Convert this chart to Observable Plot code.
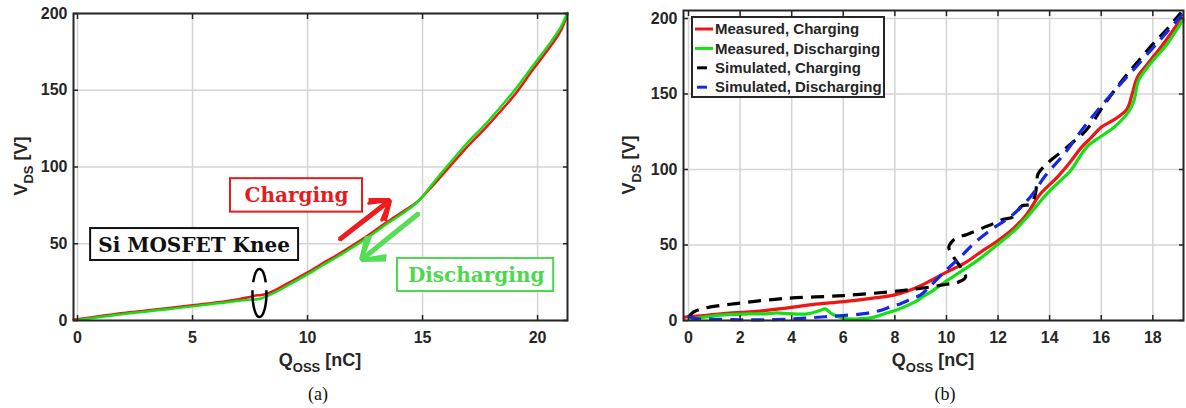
<!DOCTYPE html>
<html><head><meta charset="utf-8">
<script src="https://cdn.jsdelivr.net/npm/d3@7"></script>
<script src="https://cdn.jsdelivr.net/npm/@observablehq/plot@0.6"></script>
<style>
body{margin:0;background:#fff;}
#wrap{position:relative;width:1186px;height:408px;overflow:hidden;background:#fff;}
#wrap svg{position:absolute;top:0;}
</style></head><body><div id="wrap"></div>
<script>
// ---------- Panel (a) data ----------
const aTicksX = [0, 5, 10, 15, 20];
const aTicksY = [0, 50, 100, 150, 200];
const aQ_charge = [-0.17, 0, 1, 2, 3, 4, 5, 6, 7, 7.5, 7.8, 8.0, 8.3, 8.8, 9.4, 10, 10.6, 11.3, 12, 12.7, 13.5, 14.3, 14.8, 15.3, 15.9, 16.9, 17.8, 19, 19.8, 20.6, 21.0, 21.3];
const aV_charge = [0.5, 0.9, 2.9, 4.9, 6.5, 8.2, 9.9, 11.7, 13.9, 15.4, 16.4, 16.6, 17.8, 21.4, 26.4, 31.3, 36.8, 42.8, 49.3, 56.2, 64.6, 72.4, 77.8, 85.5, 95.5, 112.5, 126.5, 147, 163.5, 179.5, 188.5, 199.8];
const aQ_discharge = [0, 1, 2, 3, 4, 5, 6, 7, 7.5, 7.9, 8.3, 8.8, 9.4, 10, 10.6, 11.3, 12, 12.7, 13.5, 14.3, 14.8, 15.3, 15.9, 16.9, 17.8, 19, 19.8, 20.6, 21.0, 21.3];
const aV_discharge = [0.3, 2.3, 4.2, 5.8, 7.5, 9.2, 11.0, 12.8, 13.6, 14.0, 16.2, 20.0, 25.0, 30.0, 35.5, 41.5, 48.0, 55.0, 63.5, 71.5, 77.5, 86.5, 97.5, 115, 129, 150, 166, 182, 191, 200.5];

// annotations of panel (a), in data units
const annText = ["Charging", "Si MOSFET Knee", "Discharging"];
const annQ = [9.52, 5.07, 17.33];
const annV = [81.4, 48.8, 29.3];
const annBoxQ1 = [6.65, 0.57, 13.91];
const annBoxQ2 = [12.39, 9.61, 20.7];
const annBoxV1 = [70.6, 39.1, 18.9];
const annBoxV2 = [92.4, 59.9, 40.4];
const arrowQ1 = [11.39, 14.83];
const arrowV1 = [52.8, 69.7];
const arrowQ2 = [13.57, 12.35];
const arrowV2 = [78.2, 39.7];
const kneeQ = [7.91];
const kneeV = [17.9];

// ---------- Panel (b) data ----------
const bTicksX = [0, 2, 4, 6, 8, 10, 12, 14, 16, 18];
const bTicksY = [0, 50, 100, 150, 200];
const bQ_measCh = [-0.19, 0, 0.6, 1.7, 2.6, 3.7, 4.8, 6.0, 7.0, 8.0, 8.5, 9.0, 9.4, 10.0, 10.7, 11.3, 12.0, 12.6, 13.1, 13.6, 14.3, 14.8, 15.2, 15.6, 16.0, 16.5, 17.0, 17.2, 17.4, 17.8, 18.4, 19.15];
const bV_measCh = [2, 2.5, 3.3, 5, 6, 8, 10.5, 12.5, 14.5, 17, 19.5, 23, 26.5, 32, 38, 45, 53, 61, 70, 83, 95, 105, 114, 121, 128, 133, 140, 150, 161, 170, 183, 201];
const bQ_measDis = [0.06, 0.6, 1.36, 2.4, 3.0, 3.42, 3.9, 4.6, 5.1, 5.3, 5.56, 6.0, 6.5, 7.2, 7.6, 8.07, 8.5, 8.85, 9.1, 9.4, 9.9, 10.7, 11.3, 12.0, 12.6, 13.1, 13.9, 14.5, 14.8, 15.45, 16.0, 16.5, 17.05, 17.26, 17.45, 17.9, 18.55, 19.2];
const bV_measDis = [1, 2.2, 3.7, 4.4, 4.4, 5, 4.5, 4.4, 6.6, 7.7, 4.4, 1.5, 1, 2.2, 4.5, 7, 10, 13, 16, 19, 25, 34, 41, 50.5, 59, 68, 84, 94, 99, 115, 122, 128, 138, 145, 159, 170, 183, 200];
const bQ_simCh = [0, 0.19, 0.58, 1.74, 3.68, 6.0, 8.06, 8.84, 9.5, 10.0, 10.4, 10.74, 10.6, 10.28, 10.09, 10.2, 10.41, 10.8, 11.5, 11.8, 12.2, 12.56, 12.93, 13.26, 13.45, 13.5, 13.55, 13.84, 14.4, 14.9, 15.3, 15.7, 16.0, 16.5, 17.0, 17.5, 18.0, 18.5, 19.1];
const bV_simCh = [2.2, 5.5, 8, 11, 14.5, 16.5, 19.4, 21, 22.5, 24, 25, 28.6, 34, 42, 48.5, 52, 55, 57, 62, 64, 67, 68.5, 76, 77, 84, 92, 97, 103, 111, 118, 124, 132, 140, 152, 163, 173, 183, 192, 204];
const bQ_simDis = [0, 0.3, 1, 2, 3, 4, 4.7, 5.3, 6.0, 6.8, 7.4, 7.9, 8.2, 8.6, 9.0, 9.38, 10.03, 10.6, 11.06, 11.8, 12.5, 13.26, 13.84, 14.55, 15.33, 16.3, 17.56, 18.34, 19.15];
const bV_simDis = [2.5, 1.2, 0.8, 0.5, 0.5, 1, 1.8, 2.5, 3.3, 4.5, 6.5, 9.5, 11, 14, 17, 23, 34, 43, 51, 61, 69, 82, 96, 110, 128, 148, 172, 187, 203];
const legendLabels = ["Measured, Charging", "Measured, Discharging", "Simulated, Charging", "Simulated, Discharging"];

// ---------- helpers ----------
const INK = "#262626";
const RED = "#f01414", GREEN = "#14e014", BLACK = "#000000", BLUE = "#1428e6";
const rows = (Q, V) => Q.map((q, i) => ({q, v: V[i]}));
function axesMarks(xt, yt) {
  return [
    Plot.frame({stroke: INK, strokeWidth: 2}),
    Plot.axisX(xt, {anchor: "bottom", tickSize: -5, tickPadding: 16, label: null, stroke: INK, strokeWidth: 1.5, fill: INK}),
    Plot.axisX(xt, {anchor: "top", tickSize: -5, tickFormat: () => "", label: null, stroke: INK, strokeWidth: 1.5}),
    Plot.axisY(yt, {anchor: "left", tickSize: -5, tickPadding: 11, label: null, stroke: INK, strokeWidth: 1.5, fill: INK}),
    Plot.axisY(yt, {anchor: "right", tickSize: -5, tickFormat: () => "", label: null, stroke: INK, strokeWidth: 1.5})
  ];
}
function gridMarks(xt, yt) {
  return [
    Plot.gridX(xt, {stroke: "#d4d4d4", strokeOpacity: 1, strokeWidth: 1.5}),
    Plot.gridY(yt, {stroke: "#d4d4d4", strokeOpacity: 1, strokeWidth: 1.5})
  ];
}
function addAxisLabels(svg, cx, vx, cy) {
  const s = d3.select(svg);
  const q = s.append("text").attr("x", cx).attr("y", 366).attr("text-anchor", "middle")
    .attr("fill", INK).style("font", "bold 18px 'Liberation Sans', Arial, sans-serif");
  q.append("tspan").text("Q");
  q.append("tspan").attr("dy", 6).style("font-size", "13px").text("OSS");
  q.append("tspan").attr("dy", -6).text(" [nC]");
  const v = s.append("text").attr("transform", `translate(${vx},${cy}) rotate(-90)`).attr("text-anchor", "middle")
    .attr("fill", INK).style("font", "bold 18px 'Liberation Sans', Arial, sans-serif");
  v.append("tspan").text("V");
  v.append("tspan").attr("dy", 6).style("font-size", "13px").text("DS");
  v.append("tspan").attr("dy", -6).text(" [V]");
}
function addCaption(svg, x, text) {
  d3.select(svg).append("text").attr("x", x).attr("y", 400).attr("text-anchor", "middle")
    .attr("fill", "#111").style("font", "18px 'Liberation Serif', 'Times New Roman', serif").text(text);
}

// ellipse symbol for the knee marker
const ellipseSymbol = {
  draw(ctx) {
    const rx = 7, ry = 24, k = 0.5523;
    ctx.moveTo(rx, 0);
    ctx.bezierCurveTo(rx, ry * k, rx * k, ry, 0, ry);
    ctx.bezierCurveTo(-rx * k, ry, -rx, ry * k, -rx, 0);
    ctx.bezierCurveTo(-rx, -ry * k, -rx * k, -ry, 0, -ry);
    ctx.bezierCurveTo(rx * k, -ry, rx, -ry * k, rx, 0);
  }
};

const style = {fontFamily: "'Liberation Sans', Arial, sans-serif", fontWeight: "bold", fontSize: "16px", color: INK, background: "transparent", overflow: "visible"};

// ---------- Panel (a) ----------
const annColors = ["#e41c1c", "#111111", "#4dd84d"];
const arrowColors = ["#ee1c1c", "#55dd55"];
const svgA = Plot.plot({
  width: 593, height: 408,
  marginLeft: 73, marginRight: 26, marginTop: 13, marginBottom: 88,
  x: {domain: [-0.174, 21.3]},
  y: {domain: [0, 200]},
  style,
  marks: [
    ...gridMarks(aTicksX, aTicksY),
    Plot.line(rows(aQ_charge, aV_charge), {x: "q", y: "v", stroke: RED, strokeWidth: 2.5, curve: "catmull-rom"}),
    Plot.line(rows(aQ_discharge, aV_discharge), {x: "q", y: "v", stroke: GREEN, strokeWidth: 2.5, curve: "catmull-rom"}),
    Plot.rect(annText, {x1: annBoxQ1, x2: annBoxQ2, y1: annBoxV1, y2: annBoxV2, fill: "white", stroke: annColors, strokeWidth: 2}),
    Plot.text(annText, {x: annQ, y: annV, text: d => d, fill: annColors, fontFamily: "'DejaVu Serif', serif", fontWeight: "bold", fontSize: 20}),
    Plot.arrow(arrowColors, {x1: arrowQ1, y1: arrowV1, x2: arrowQ2, y2: arrowV2, stroke: arrowColors, strokeWidth: 5, headLength: 9, headAngle: 75, strokeLinejoin: "miter", strokeLinecap: "butt"}),
    Plot.arrow(arrowColors, {x1: arrowQ1, y1: arrowV1, x2: arrowQ2, y2: arrowV2, stroke: arrowColors, strokeWidth: 3, headLength: 12, headAngle: 60, strokeLinejoin: "miter"}),
    Plot.dot(kneeQ, {x: kneeQ, y: kneeV, symbol: ellipseSymbol, r: 1, stroke: "#000", strokeWidth: 2.5, fill: "none", strokeDasharray: "55 8 31 8 3"}),
    ...axesMarks(aTicksX, aTicksY)
  ]
});
svgA.style.left = "0px";
document.getElementById("wrap").appendChild(svgA);
addAxisLabels(svgA, 320, 27, 166);
addCaption(svgA, 318, "(a)");

// ---------- Panel (b) ----------
const series = [
  {Q: bQ_measCh, V: bV_measCh, color: RED, dash: null},
  {Q: bQ_measDis, V: bV_measDis, color: GREEN, dash: null},
  {Q: bQ_simCh, V: bV_simCh, color: BLACK, dash: "13 8"},
  {Q: bQ_simDis, V: bV_simDis, color: BLUE, dash: "13 8"}
];
const svgB = Plot.plot({
  width: 593, height: 408,
  marginLeft: 90, marginRight: 3, marginTop: 10, marginBottom: 88,
  x: {domain: [-0.194, 19.19]},
  y: {domain: [0, 205.3]},
  style,
  marks: [
    ...gridMarks(bTicksX, bTicksY),
    ...series.map(s => Plot.line(rows(s.Q, s.V), {x: "q", y: "v", stroke: s.color, strokeWidth: 3.2, strokeDasharray: s.dash, strokeLinecap: "butt", curve: "catmull-rom"})),
    ...axesMarks(bTicksX, bTicksY)
  ]
});
svgB.style.left = "593px";
document.getElementById("wrap").appendChild(svgB);
addAxisLabels(svgB, 340, 42, 165);
addCaption(svgB, 352, "(b)");

// legend (MATLAB-style, north-west inside the axes)
{
  const g = d3.select(svgB).append("g").attr("transform", "translate(99,17)");
  g.append("rect").attr("width", 192).attr("height", 80).attr("fill", "white").attr("stroke", INK).attr("stroke-width", 2);
  legendLabels.forEach((lab, i) => {
    const y = 12 + i * 19.4;
    const s = series[i];
    g.append("line").attr("x1", s.dash ? 5 : 3).attr("x2", s.dash ? 15 : 21).attr("y1", y).attr("y2", y)
      .attr("stroke", s.color).attr("stroke-width", 3);
    g.append("text").attr("x", 23).attr("y", y).attr("dy", "0.35em").attr("text-anchor", "start").attr("fill", INK)
      .style("font", "bold 15px 'Liberation Sans', Arial, sans-serif").text(lab);
  });
}
</script></body></html>
